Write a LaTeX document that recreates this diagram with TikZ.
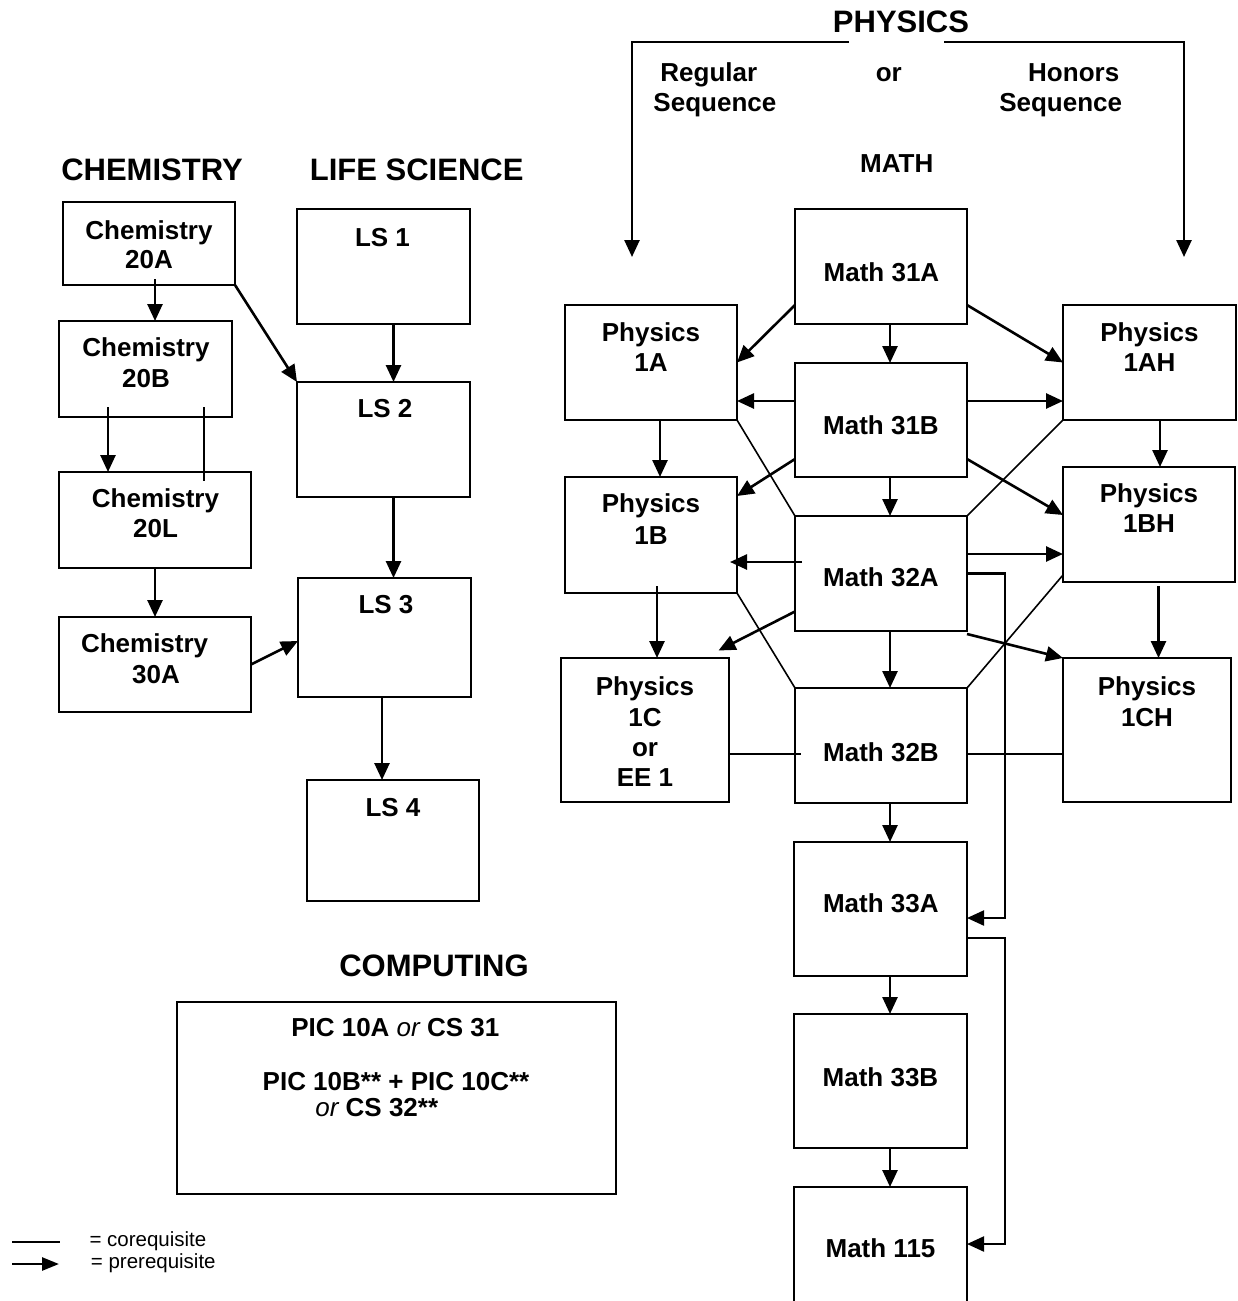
\documentclass[tikz,border=0pt]{standalone}
\usepackage{fontspec}
\setmainfont{Liberation Sans}
\usetikzlibrary{arrows.meta,calc}
\tikzset{
  crs/.style={draw, line width=2pt, inner sep=0pt, outer sep=0pt},
  pre/.style={line width=2.6pt, -{Triangle[length=17pt,width=15pt]}},
  loopar/.style={line width=2.2pt, -{Triangle[length=17pt,width=15pt]}},
  legar/.style={line width=2.6pt, -{Triangle[length=17pt,width=13pt]}},
  co/.style={line width=1.6pt},
  lab/.style={font=\fontsize{26}{30}\selectfont\bfseries, text height=18.6pt, text depth=0pt, inner sep=0pt},
  head/.style={font=\fontsize{31}{36}\selectfont\bfseries, text height=22.2pt, text depth=0pt, inner sep=0pt},
  leg/.style={font=\fontsize{20.5}{24}\selectfont, inner sep=0pt, anchor=base west},
}
\newcommand\mybox[5]{\node[crs, minimum width={#4-#2}, minimum height={#5-#3}] (#1) at ({(#2+#4)/2},{(#3+#5)/2}) {};}
\newcommand\mytx[4]{\node[lab] (#1) at (#2,#3) {#4};}
\begin{document}
\begin{tikzpicture}[x=1pt,y=-1pt]
\path[use as bounding box] (0,0) rectangle (1238,1301);
\clip (0,0) rectangle (1238,1301);

% headings
\node[head] (hchem) at (152,169.3) {CHEMISTRY};
\node[head] (hls) at (416.7,169.3) {LIFE SCIENCE};
\node[head] (hphys) at (901,21.7) {PHYSICS};
\node[head] (hcomp) at (434,965.6) {COMPUTING};
\mytx{hmath}{896.7}{163.3}{MATH}
\mytx{hreg1}{708.8}{71.7}{Regular}
\mytx{hreg2}{714.9}{101.7}{Sequence}
\mytx{hor}{888.8}{71.7}{or}
\mytx{hhon1}{1073.7}{71.7}{Honors}
\mytx{hhon2}{1060.7}{101.7}{Sequence}

% boxes
\mybox{c20a}{63}{202}{235}{285}
\mybox{c20b}{59}{321}{232}{417}
\mybox{c20l}{59}{472}{251}{568}
\mybox{c30a}{59}{617}{251}{712}
\mybox{ls1}{297}{209}{470}{324}
\mybox{ls2}{297}{382}{470}{497}
\mybox{ls3}{298}{578}{471}{697}
\mybox{ls4}{307}{780}{479}{901}
\mybox{comp}{177}{1002}{616}{1194}
\mybox{m31a}{795}{209}{967}{324}
\mybox{m31b}{795}{363}{967}{477}
\mybox{m32a}{795}{516}{967}{631}
\mybox{m32b}{795}{688}{967}{803}
\mybox{m33a}{794}{842}{967}{976}
\mybox{m33b}{794}{1014}{967}{1148}
\mybox{m115}{794}{1187}{967}{1321}
\mybox{p1a}{565}{305}{737}{420}
\mybox{p1b}{565}{477}{737}{593}
\mybox{p1c}{561}{658}{729}{802}
\mybox{p1ah}{1063}{305}{1236}{420}
\mybox{p1bh}{1063}{467}{1235}{582}
\mybox{p1ch}{1063}{658}{1231}{802}

% box texts
\mytx{t20a1}{149}{230}{Chemistry}
\mytx{t20a2}{149}{259.3}{20A}
\mytx{t20b1}{146}{347}{Chemistry}
\mytx{t20b2}{146}{378}{20B}
\mytx{t20l1}{155.5}{498.6}{Chemistry}
\mytx{t20l2}{155.5}{528.6}{20L}
\mytx{t30a1}{144.6}{642.7}{Chemistry}
\mytx{t30a2}{156}{673.7}{30A}
\mytx{tls1}{382.5}{236.7}{LS 1}
\mytx{tls2}{385}{407.7}{LS 2}
\mytx{tls3}{386}{604.6}{LS 3}
\mytx{tls4}{393}{806.7}{LS 4}
\mytx{tm31a}{881.5}{271.7}{Math 31A}
\mytx{tm31b}{881}{425}{Math 31B}
\mytx{tm32a}{881}{576.7}{Math 32A}
\mytx{tm32b}{881}{751.7}{Math 32B}
\mytx{tm33a}{880.8}{903.3}{Math 33A}
\mytx{tm33b}{880.5}{1077}{Math 33B}
\mytx{tm115}{880.5}{1248}{Math 115}
\mytx{tp1a1}{651}{331.7}{Physics}
\mytx{tp1a2}{651}{361.7}{1A}
\mytx{tp1b1}{651}{503.3}{Physics}
\mytx{tp1b2}{651}{535}{1B}
\mytx{tp1c1}{645}{686}{Physics}
\mytx{tp1c2}{645}{716.7}{1C}
\mytx{tp1c3}{645}{746.7}{or}
\mytx{tp1c4}{645}{776.7}{EE 1}
\mytx{tp1ah1}{1149.5}{331.7}{Physics}
\mytx{tp1ah2}{1149.5}{361.7}{1AH}
\mytx{tp1bh1}{1149}{492.7}{Physics}
\mytx{tp1bh2}{1149}{523.3}{1BH}
\mytx{tp1ch1}{1147}{685.7}{Physics}
\mytx{tp1ch2}{1147}{716.7}{1CH}
\mytx{tc1}{395.3}{1026.7}{PIC 10A {\mdseries\itshape or} CS 31}
\mytx{tc2}{396}{1081}{PIC 10B** + PIC 10C**}
\mytx{tc3}{376.8}{1107}{{\mdseries\itshape or} CS 32**}

% chemistry / life science connectors
\draw[pre] ($(c20a.south)+(6,-6)$) -- ($(c20b.north)+(9.5,0)$);
\draw[pre] (c20a.south east) -- (ls2.north west);
\draw[pre] ($(ls1.south)+(10,0)$) -- ($(ls2.north)+(10,0)$);
\draw[pre] ($(c20b.south)+(-37.5,-10)$) -- ($(c20l.north)+(-47,0)$);
\draw[co] ($(c20b.south)+(58.5,-10)$) -- ($(c20l.north)+(49,9)$);
\draw[pre] (c20l.south) -- (c30a.north);
\draw[pre] (c30a.east) -- ($(ls3.west)+(0,3.5)$);
\draw[pre] ($(ls2.south)+(10,0)$) -- ($(ls3.north)+(9,0)$);
\draw[pre] ($(ls3.south)+(-2.5,0)$) -- ($(ls4.north)+(-11,0)$);

% physics header
\coordinate (gl) at (849,42);
\coordinate (gr) at (944,42);
\coordinate (tl) at (632,257);
\coordinate (tr) at (1184,257);
\draw[pre] (gl) -| (tl);
\draw[pre] (gr) -| (tr);

% math / physics connectors
\draw[pre] ($(m31a.south west)+(0,-19)$) -- (p1a.east);
\draw[pre] ($(m31a.south)+(9,0)$) -- ($(m31b.north)+(9,0)$);
\draw[pre] ($(m31a.south east)+(0,-19)$) -- (p1ah.west);
\draw[pre] ($(m31b.west)+(0,-19)$) -- ($(p1a.east)+(0,38.5)$);
\draw[pre] ($(m31b.east)+(0,-19)$) -- ($(p1ah.west)+(0,38.5)$);
\draw[pre] ($(p1a.south)+(9,0)$) -- ($(p1b.north)+(9,0)$);
\draw[co] (p1a.south east) -- (m32a.north west);
\draw[co] (p1ah.south west) -- (m32a.north east);
\draw[pre] ($(m31b.west)+(0,39)$) -- ($(p1b.east)+(0,-39)$);
\draw[pre] ($(m31b.east)+(0,39)$) -- ($(p1bh.west)+(0,-9.5)$);
\draw[pre] ($(p1ah.south)+(10.5,0)$) -- ($(p1bh.north)+(11,0)$);
\draw[pre] ($(m31b.south)+(9,0)$) -- ($(m32a.north)+(9,0)$);
\draw[pre] ($(m32a.east)+(0,-19.5)$) -- ($(p1bh.west)+(0,29.5)$);
\draw[pre] ($(m32a.west)+(7,-11.5)$) -- ($(p1b.east)+(-7,27)$);
\draw[pre] ($(p1b.south)+(6,-7)$) -- ($(p1c.north)+(12,0)$);
\draw[co] (p1b.south east) -- (m32b.north west);
\draw[pre] ($(m32a.west)+(0,38)$) -- ($(p1c.north east)+(-10.5,-7.5)$);
\draw[pre] ($(m32a.south)+(9,0)$) -- ($(m32b.north)+(9,0)$);
\draw[pre] ($(m32a.south east)+(0,3)$) -- (p1ch.north west);
\draw[co] ($(p1bh.south west)+(0,-7)$) -- (m32b.north east);
\draw[pre] ($(p1bh.south)+(9.5,4)$) -- ($(p1ch.north)+(11.5,0)$);
\draw[co] ($(p1c.east)+(0,24)$) -- ($(m32b.west)+(6,8.5)$);
\draw[co] ($(m32b.east)+(0,8.5)$) -- ($(p1ch.west)+(0,24)$);
\draw[pre] ($(m32b.south)+(9,0)$) -- ($(m33a.north)+(9.5,0)$);
\draw[loopar] (m32a.east) -- ++(38,0) |- ($(m33a.east)+(0,9)$);
\draw[pre] ($(m33a.south)+(9.5,0)$) -- ($(m33b.north)+(9.5,0)$);
\draw[pre] ($(m33b.south)+(9.5,0)$) -- ($(m115.north)+(9.5,0)$);
\draw[loopar] ($(m33a.east)+(0,29)$) -- ++(38,0) |- ($(m115.east)+(0,-10)$);

% legend
\coordinate (la) at (12,1242);
\coordinate (lb) at (60,1242);
\coordinate (lc) at (12,1264);
\coordinate (ld) at (59,1264);
\draw[co] (la) -- (lb);
\draw[legar] (lc) -- (ld);
\node[leg] (lg1) at (89.3,1246) {= corequisite};
\node[leg] (lg2) at (90.7,1268.5) {= prerequisite};
\end{tikzpicture}
\end{document}
